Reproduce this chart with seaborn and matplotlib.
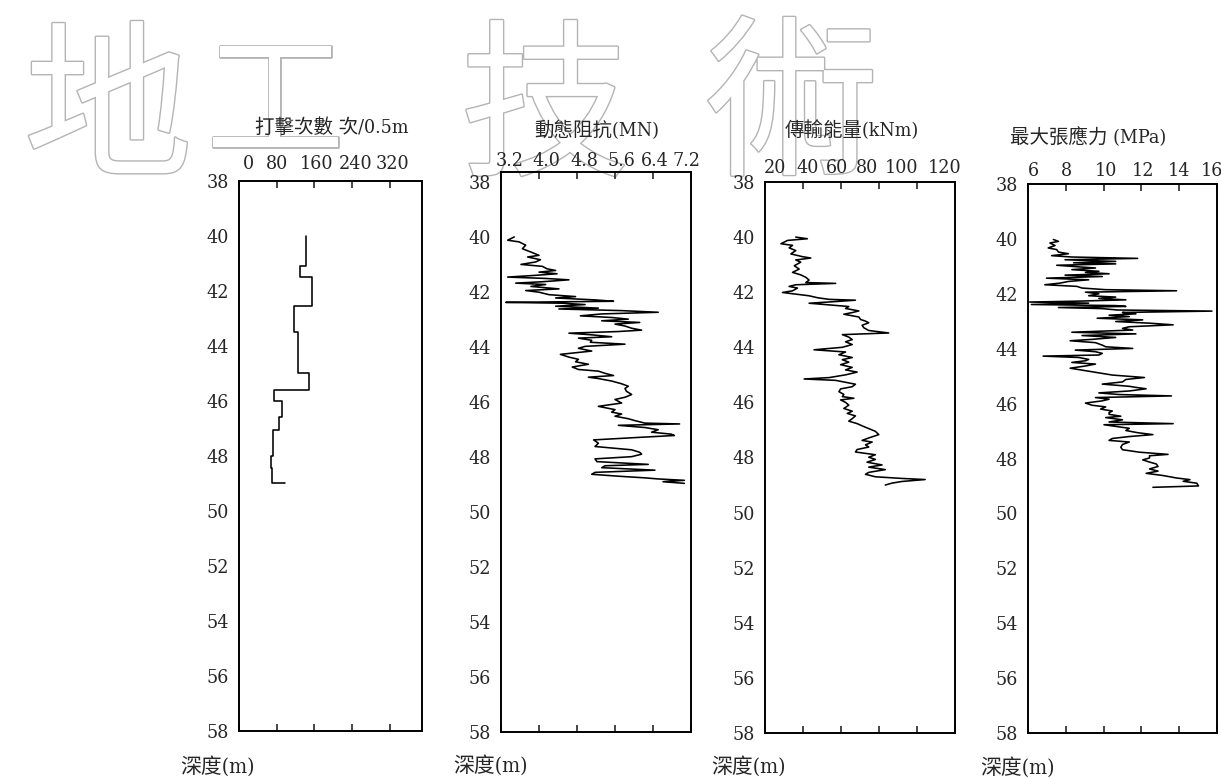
import matplotlib
matplotlib.use("Agg")
import matplotlib.pyplot as plt
import matplotlib.patheffects as pe
from matplotlib import font_manager as fm
from matplotlib.transforms import ScaledTranslation
import seaborn as sns
import pandas as pd

# ---------------- data ----------------
# Panel 1: blow counts per 0.5 m (step profile)
blow_top = [40.0, 41.1, 41.5, 42.55, 43.5, 45.0, 45.6, 46.0, 46.6, 47.05, 48.0, 48.45]
blow_bottom = [41.1, 41.5, 42.55, 43.5, 45.0, 45.6, 46.0, 46.6, 47.05, 48.0, 48.45, 49.0]
blow_count = [143, 129, 154, 117, 125, 148, 74, 91, 84, 73, 68, 71]
blow_end = 97

# Panel 2: dynamic resistance (MN)
imp_depth = [40.00, 40.12, 40.18, 40.30, 40.43, 40.55, 40.67, 40.73, 40.83, 40.91, 41.00, 41.07,
             41.16, 41.22, 41.28, 41.34, 41.40, 41.46, 41.51, 41.56, 41.63, 41.68, 41.73, 41.80,
             41.89, 41.95, 42.01, 42.10, 42.17, 42.22, 42.29, 42.34, 42.38, 42.41, 42.46, 42.52,
             42.59, 42.62, 42.68, 42.74, 42.80, 42.87, 42.93, 42.99, 43.05, 43.11, 43.17, 43.24,
             43.32, 43.39, 43.44, 43.50, 43.56, 43.63, 43.68, 43.76, 43.83, 43.90, 43.98, 44.05,
             44.15, 44.27, 44.37, 44.45, 44.54, 44.63, 44.73, 44.82, 44.88, 44.96, 45.04, 45.10,
             45.15, 45.24, 45.34, 45.43, 45.51, 45.61, 45.73, 45.83, 45.91, 46.04, 46.16, 46.28,
             46.37, 46.44, 46.52, 46.61, 46.68, 46.77, 46.80, 46.85, 46.93, 47.01, 47.10, 47.17,
             47.22, 47.29, 47.38, 47.50, 47.62, 47.74, 47.83, 47.90, 47.99, 48.07, 48.17, 48.27,
             48.32, 48.39, 48.48, 48.56, 48.63, 48.70, 48.76, 48.80, 48.85, 48.90, 48.96]
imp_value = [3.48, 3.34, 3.58, 3.72, 3.65, 3.83, 4.00, 3.76, 4.03, 3.93, 3.62, 4.07,
             4.17, 4.35, 4.00, 4.38, 3.90, 3.34, 4.14, 4.63, 4.07, 3.51, 4.14, 3.83,
             4.42, 3.72, 4.00, 4.21, 4.77, 4.35, 5.18, 5.57, 3.30, 4.49, 4.97, 4.35,
             5.25, 4.42, 5.74, 6.51, 5.32, 4.87, 5.53, 5.88, 5.32, 6.12, 5.60, 5.81,
             5.95, 6.16, 5.67, 4.63, 5.11, 5.53, 4.83, 5.11, 5.08, 5.81, 4.97, 4.83,
             5.11, 4.45, 4.63, 4.83, 4.77, 5.04, 4.70, 4.83, 5.25, 5.39, 5.57, 5.04,
             5.25, 5.53, 5.74, 5.88, 5.81, 5.84, 5.95, 5.81, 5.60, 5.74, 5.25, 5.60,
             5.53, 5.74, 5.60, 5.88, 6.02, 6.23, 6.96, 5.67, 6.23, 6.51, 6.37, 6.78,
             6.85, 6.09, 5.15, 5.25, 5.18, 5.95, 6.12, 6.16, 5.95, 5.18, 5.22, 6.30,
             5.39, 5.32, 6.44, 5.18, 5.11, 5.67, 6.23, 6.51, 7.06, 6.61, 7.06]

# Panel 3: transferred energy (kNm)
energy_depth = [40.00, 40.06, 40.12, 40.24, 40.30, 40.39, 40.49, 40.61, 40.71, 40.76, 40.83, 40.91,
                41.04, 41.16, 41.28, 41.37, 41.46, 41.56, 41.65, 41.68, 41.73, 41.79, 41.85, 41.95,
                42.01, 42.07, 42.13, 42.20, 42.26, 42.29, 42.34, 42.40, 42.46, 42.52, 42.59, 42.68,
                42.74, 42.80, 42.90, 42.99, 43.05, 43.11, 43.20, 43.29, 43.39, 43.48, 43.54, 43.63,
                43.72, 43.80, 43.90, 44.00, 44.09, 44.17, 44.27, 44.37, 44.45, 44.54, 44.63, 44.73,
                44.82, 44.90, 45.00, 45.10, 45.15, 45.20, 45.27, 45.34, 45.43, 45.51, 45.61, 45.71,
                45.79, 45.85, 45.91, 46.00, 46.10, 46.22, 46.32, 46.40, 46.49, 46.59, 46.68, 46.77,
                46.85, 46.95, 47.05, 47.17, 47.29, 47.38, 47.44, 47.54, 47.62, 47.71, 47.80, 47.90,
                47.99, 48.07, 48.17, 48.27, 48.35, 48.44, 48.54, 48.61, 48.70, 48.76, 48.80, 48.87,
                48.93, 49.00]
energy_value = [36.2, 42.3, 31.9, 28.4, 34.5, 32.7, 36.2, 33.6, 39.7, 44.1, 36.2, 38.8,
                35.4, 38.0, 34.5, 38.8, 41.5, 43.2, 41.5, 57.2, 36.2, 32.7, 37.1, 34.5,
                29.2, 36.2, 43.2, 47.6, 53.7, 67.6, 57.2, 43.2, 53.7, 64.1, 62.4, 69.4,
                65.9, 61.5, 69.4, 70.3, 72.9, 74.6, 71.1, 72.0, 74.6, 85.1, 60.7, 64.1,
                65.9, 62.4, 65.9, 60.7, 45.8, 62.4, 58.9, 65.9, 60.7, 64.1, 59.8, 65.9,
                62.4, 68.5, 62.4, 53.7, 40.6, 57.2, 62.4, 67.6, 65.9, 59.8, 58.9, 61.5,
                60.7, 66.8, 59.8, 62.4, 64.1, 61.5, 65.9, 63.3, 67.6, 65.9, 64.1, 68.5,
                71.1, 74.6, 78.1, 79.9, 74.6, 71.1, 76.4, 72.9, 74.6, 68.5, 67.6, 78.1,
                74.6, 78.1, 73.7, 81.6, 74.6, 83.3, 74.6, 72.9, 78.1, 92.1, 104.3, 92.1,
                86.8, 83.3]

# Panel 4: maximum tensile stress (MPa)
stress_depth = [40.02, 40.09, 40.15, 40.24, 40.33, 40.39, 40.48, 40.54, 40.61, 40.66, 40.71, 40.76,
                40.82, 40.87, 40.91, 40.96, 41.01, 41.06, 41.12, 41.18, 41.22, 41.27, 41.32, 41.37,
                41.43, 41.49, 41.55, 41.61, 41.67, 41.73, 41.79, 41.85, 41.89, 41.94, 42.00, 42.07,
                42.12, 42.17, 42.22, 42.27, 42.30, 42.34, 42.39, 42.43, 42.46, 42.50, 42.54, 42.59,
                42.63, 42.68, 42.73, 42.78, 42.83, 42.89, 42.95, 43.01, 43.07, 43.13, 43.20, 43.26,
                43.32, 43.40, 43.46, 43.52, 43.59, 43.66, 43.71, 43.78, 43.87, 43.93, 43.99, 44.05,
                44.11, 44.17, 44.23, 44.27, 44.32, 44.39, 44.44, 44.50, 44.56, 44.63, 44.71, 44.78,
                44.88, 44.96, 45.05, 45.12, 45.21, 45.29, 45.37, 45.41, 45.46, 45.54, 45.61, 45.67,
                45.72, 45.78, 45.84, 45.90, 45.98, 46.06, 46.12, 46.20, 46.27, 46.33, 46.39, 46.46,
                46.51, 46.59, 46.67, 46.73, 46.77, 46.83, 46.90, 46.98, 47.06, 47.13, 47.20, 47.27,
                47.34, 47.40, 47.49, 47.59, 47.68, 47.77, 47.85, 47.90, 47.98, 48.05, 48.13, 48.20,
                48.29, 48.38, 48.46, 48.54, 48.62, 48.71, 48.77, 48.83, 48.90, 49.00, 49.05]
stress_value = [7.34, 7.61, 7.16, 7.43, 7.07, 7.52, 7.61, 8.14, 7.25, 8.32, 11.80, 7.96,
                10.64, 8.41, 10.64, 7.52, 8.50, 9.57, 8.32, 9.75, 9.04, 10.29, 7.96, 9.93,
                6.98, 9.21, 8.14, 7.70, 6.89, 8.59, 8.86, 10.11, 13.86, 9.04, 9.75, 9.21,
                10.64, 9.75, 11.18, 8.50, 6.09, 9.21, 6.18, 10.64, 11.18, 7.61, 9.93, 10.73,
                15.73, 11.00, 11.71, 10.29, 11.36, 9.66, 12.07, 10.64, 12.43, 13.68, 11.36, 11.00,
                11.54, 8.32, 11.71, 8.86, 10.64, 9.39, 8.23, 9.57, 9.93, 10.11, 11.54, 8.50,
                9.57, 9.93, 9.75, 6.80, 8.68, 9.21, 9.04, 8.32, 9.57, 9.04, 8.23, 8.86,
                9.75, 10.46, 12.16, 11.18, 11.00, 9.93, 11.36, 11.71, 12.25, 11.36, 9.75, 10.82,
                13.59, 9.57, 10.29, 9.93, 9.04, 9.39, 10.11, 9.84, 10.46, 10.29, 10.29, 10.91,
                10.11, 11.00, 10.29, 13.68, 10.02, 10.64, 11.36, 11.18, 11.80, 12.61, 11.36, 10.46,
                10.29, 11.36, 11.00, 10.91, 11.00, 11.89, 13.41, 12.43, 12.43, 12.07, 12.43, 12.79,
                12.88, 12.43, 12.88, 12.25, 13.14, 13.86, 14.57, 14.21, 14.93, 15.02, 12.61]

titles = ["打擊次數 次/0.5m", "動態阻抗(MN)", "傳輸能量(kNm)", "最大張應力 (MPa)"]
xticks_list = [[0, 80, 160, 240, 320],
               [3.2, 4.0, 4.8, 5.6, 6.4, 7.2],
               [20, 40, 60, 80, 100, 120],
               [6, 8, 10, 12, 14, 16]]
xtick_labels = [["0", "80", "160", "240", "320"],
                ["3.2", "4.0", "4.8", "5.6", "6.4", "7.2"],
                ["20", "40", "60", "80", "100", "120"],
                ["6", "8", "10", "12", "14", "16"]]
xlims = [(0, 388), (3.2, 7.2), (20, 120), (6, 16)]
depth_ticks = list(range(38, 59, 2))
depth_label = "深度(m)"
watermark = ["地", "工", "技", "術"]

# ---------------- style ----------------
sns.set_style("white")

# pick a narrow serif for the digits, like the original print
num_family = "Liberation Serif"
stretch = "normal"
try:
    p = fm.findfont(fm.FontProperties(family="DejaVu Serif", stretch="condensed"),
                    fallback_to_default=False)
    if "Condensed" in p:
        num_family = "DejaVu Serif"
        stretch = "condensed"
except Exception:
    pass

NUM_FONT = [num_family, "Noto Sans CJK TC", "DejaVu Sans"]
CJK_FONT = ["Noto Sans CJK TC", "DejaVu Sans"]
plt.rcParams["font.family"] = NUM_FONT
plt.rcParams["font.stretch"] = stretch
NUM_SIZE = 14 if stretch == "condensed" else 15.5

W, H = 1221, 778
fig = plt.figure(figsize=(W / 100, H / 100), dpi=100)
fig.patch.set_facecolor("white")


def rect(l, r, t, b):
    return [l / W, 1 - b / H, (r - l) / W, (b - t) / H]


# panel frames in pixels: (left, right, top, bottom, top-depth)
frames = [(239, 422, 181, 731, 38.0),
          (501, 691, 172, 732, 37.64),
          (765, 955, 182, 733, 38.0),
          (1028, 1217, 184, 733, 38.0)]
top_pads = [6.0, 1.5, 3.5, 3.0]
label_dx = [[9, 0, 2, 3, 3],
            [9, 7, 7, 6, 2, -5],
            [10, 5, -4, -12, -15, -10],
            [5, 1, 2, 2, 0, -5]]
title_pos = [(332, 128), (597, 130), (852, 130), (1088, 137)]
depth_pos = [(180, 766), (453, 765), (711, 766), (980, 767)]

# watermark (outlined large characters)
wm_spec = [(108, 115, 122), (275, 108, 100), (545, 114, 122), (792, 112, 125)]
for ch, (x, y, s) in zip(watermark, wm_spec):
    fig.text(x / W, 1 - y / H, ch, fontsize=s, family=CJK_FONT, color="white",
             fontstretch="normal", ha="center", va="center", zorder=-5,
             path_effects=[pe.Stroke(linewidth=2.0, foreground="#b4b4b4"), pe.Normal()])

# panel 1 step path built from interval data
step_x, step_y = [], []
for t, b, v in zip(blow_top, blow_bottom, blow_count):
    step_x += [v, v]
    step_y += [t, b]
step_x.append(blow_end)
step_y.append(blow_bottom[-1])

series = [
    pd.DataFrame({"value": step_x, "depth": step_y}),
    pd.DataFrame({"value": imp_value, "depth": imp_depth}),
    pd.DataFrame({"value": energy_value, "depth": energy_depth}),
    pd.DataFrame({"value": stress_value, "depth": stress_depth}),
]

for i, df in enumerate(series):
    l, r, t, b, dtop = frames[i]
    ax = fig.add_axes(rect(l, r, t, b))
    ax.set_facecolor("none")
    sns.lineplot(data=df, x="value", y="depth", sort=False, estimator=None,
                 orient="y", color="black", linewidth=1.15, ax=ax)
    ax.set_xlim(*xlims[i])
    ax.set_ylim(58, dtop)
    ax.set_xlabel("")
    ax.set_ylabel("")
    ax.set_xticks(xticks_list[i])
    ax.set_xticklabels(xtick_labels[i])
    ax.set_yticks(depth_ticks)
    ax.set_yticklabels([str(d) for d in depth_ticks])
    ax.tick_params(axis="x", which="both", top=True, bottom=True, labeltop=True,
                   labelbottom=False, direction="in", length=5, width=1.2,
                   pad=top_pads[i], labelsize=NUM_SIZE)
    ax.tick_params(axis="y", left=False, right=False, length=0, pad=7, labelsize=NUM_SIZE)
    for sp in ax.spines.values():
        sp.set_visible(True)
        sp.set_color("black")
        sp.set_linewidth(1.4)
    # small horizontal offsets of the printed top labels
    for tick, dx in zip(ax.xaxis.get_major_ticks(), label_dx[i]):
        lab = tick.label2
        lab.set_transform(lab.get_transform() + ScaledTranslation(dx / 100, 0, fig.dpi_scale_trans))
    tx, ty = title_pos[i]
    fig.text(tx / W, 1 - ty / H, titles[i], fontsize=14, family=NUM_FONT,
             ha="center", va="center", zorder=5)
    dx, dy = depth_pos[i]
    fig.text(dx / W, 1 - dy / H, depth_label, fontsize=15, family=NUM_FONT,
             ha="left", va="center", zorder=5)

fig.savefig("out.png", dpi=100, facecolor="white")
